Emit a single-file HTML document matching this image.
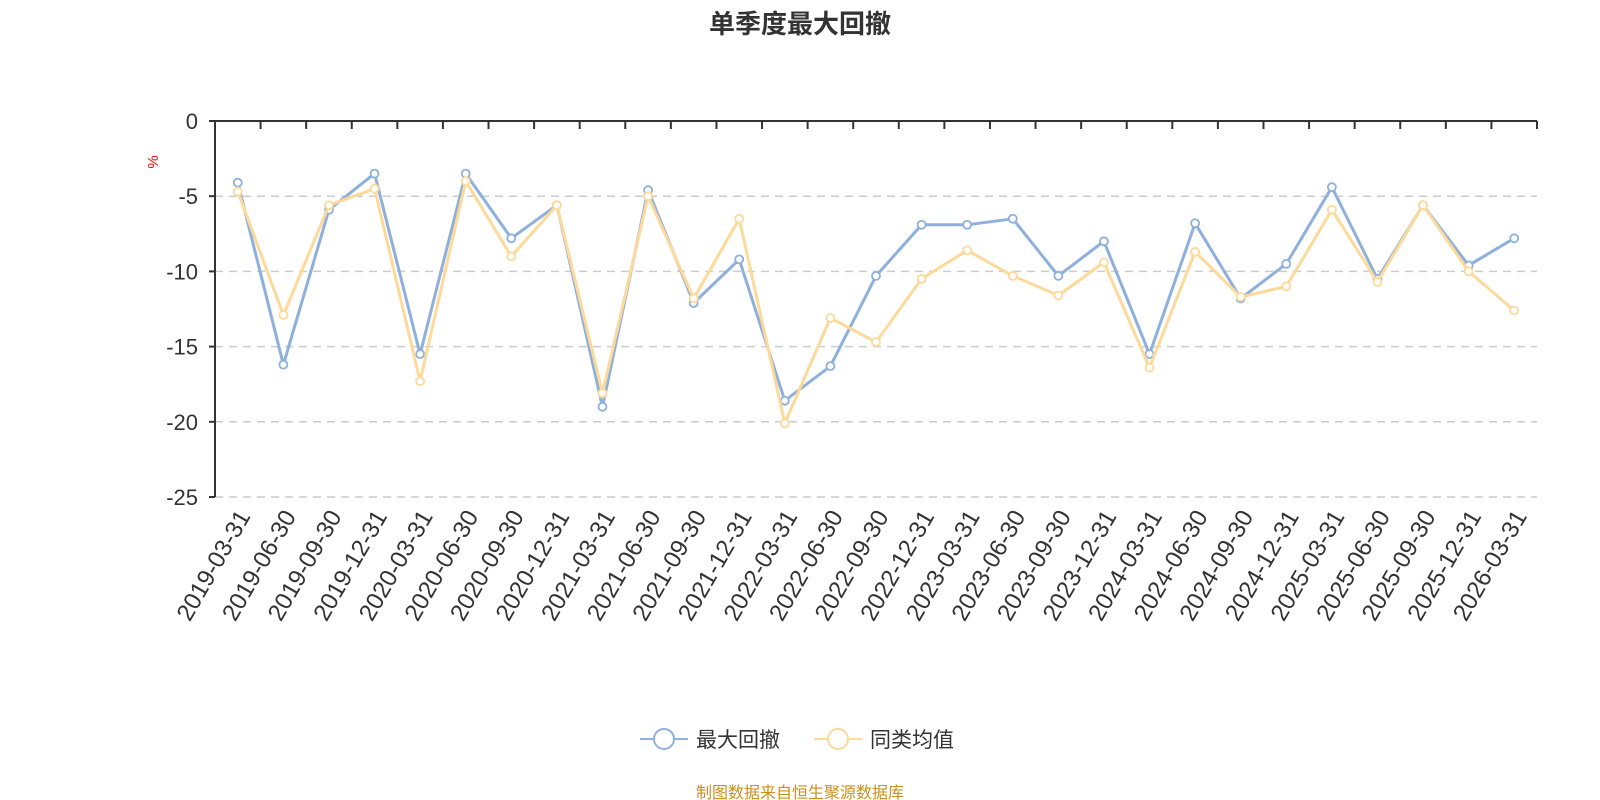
<!DOCTYPE html>
<html><head><meta charset="utf-8"><style>
html,body{margin:0;padding:0;background:#fff;}
svg{display:block;font-family:"Liberation Sans","Noto Sans CJK SC",sans-serif;}
</style></head><body>
<svg id="c" width="1600" height="800" xmlns="http://www.w3.org/2000/svg">
<text x="800" y="33" text-anchor="middle" font-size="26" font-weight="bold" fill="#333">单季度最大回撤</text>
<text x="0" y="0" transform="translate(158,162) rotate(-90)" text-anchor="middle" font-size="15" fill="#f00">%</text>
<g id="g"></g>
<g transform="translate(640,739)">
<line x1="0" y1="0" x2="48" y2="0" stroke="#8eb0dc" stroke-width="2"/>
<circle cx="24" cy="0" r="10" fill="#fff" stroke="#8eb0dc" stroke-width="2"/>
<text x="56" y="8" font-size="21" fill="#333">最大回撤</text>
<line x1="174" y1="0" x2="222" y2="0" stroke="#fdd99a" stroke-width="2"/>
<circle cx="198" cy="0" r="10" fill="#fff" stroke="#fdd99a" stroke-width="2"/>
<text x="230" y="8" font-size="21" fill="#333">同类均值</text>
</g>
<text x="800" y="798" text-anchor="middle" font-size="16" fill="#c8901e">制图数据来自恒生聚源数据库</text>
</svg>
<script>
var L=215,R=1537,T=121,U=15.04;
var labels=[],m=[3,6,9,12],d=["31","30","30","31"];
for(var i=0;i<29;i++){var q=i%4;labels.push((2019+Math.floor(i/4))+"-"+(m[q]<10?"0":"")+m[q]+"-"+d[q]);}
var A=[-4.1,-16.2,-5.9,-3.5,-15.5,-3.5,-7.8,-5.6,-19.0,-4.6,-12.1,-9.2,-18.6,-16.3,-10.3,-6.9,-6.9,-6.5,-10.3,-8.0,-15.5,-6.8,-11.8,-9.5,-4.4,-10.5,-5.6,-9.6,-7.8];
var B=[-4.7,-12.9,-5.6,-4.5,-17.3,-4.0,-9.0,-5.6,-18.1,-5.0,-11.8,-6.5,-20.1,-13.1,-14.7,-10.5,-8.6,-10.3,-11.6,-9.4,-16.4,-8.7,-11.7,-11.0,-5.9,-10.7,-5.6,-10.0,-12.6];
var w=(R-L)/29,s="";
function Y(v){return T-U*v;}
for(var k=1;k<=5;k++){var yy=Y(-5*k);s+='<line x1="'+L+'" y1="'+yy+'" x2="'+R+'" y2="'+yy+'" stroke="#ccc" stroke-width="1.5" stroke-dasharray="8,6"/>';}
for(var k=0;k<=5;k++){var yy=Y(-5*k);s+='<line x1="'+(L-6)+'" y1="'+yy+'" x2="'+L+'" y2="'+yy+'" stroke="#333" stroke-width="2"/>';
s+='<text x="'+(L-17)+'" y="'+(yy+8)+'" text-anchor="end" font-size="22" fill="#333">'+(k?'-'+5*k:'0')+'</text>';}
s+='<line x1="'+L+'" y1="'+T+'" x2="'+L+'" y2="'+Y(-25)+'" stroke="#333" stroke-width="2"/>';
s+='<line x1="'+L+'" y1="'+T+'" x2="'+R+'" y2="'+T+'" stroke="#333" stroke-width="2"/>';
for(var i=0;i<=29;i++){var x=L+w*i;s+='<line x1="'+x+'" y1="'+T+'" x2="'+x+'" y2="'+(T+8)+'" stroke="#333" stroke-width="2"/>';}
for(var i=0;i<29;i++){var x=L+w*(i+0.5);s+='<text transform="translate('+(x+6)+','+(Y(-25)+15)+') rotate(-60)" text-anchor="end" dy="0.35em" font-size="24" fill="#333">'+labels[i]+'</text>';}
function series(D,c){var p=D.map(function(v,i){return (L+w*(i+0.5)).toFixed(1)+','+Y(v).toFixed(1);}).join(' ');
var o='<polyline points="'+p+'" fill="none" stroke="'+c+'" stroke-width="3" stroke-linejoin="round"/>';
D.forEach(function(v,i){o+='<circle cx="'+(L+w*(i+0.5))+'" cy="'+Y(v)+'" r="4" fill="#fff" stroke="'+c+'" stroke-width="1.8"/>';});return o;}
s+=series(A,"#8eb0dc")+series(B,"#fdd99a");
document.getElementById("g").innerHTML=s;
</script>
</body></html>
